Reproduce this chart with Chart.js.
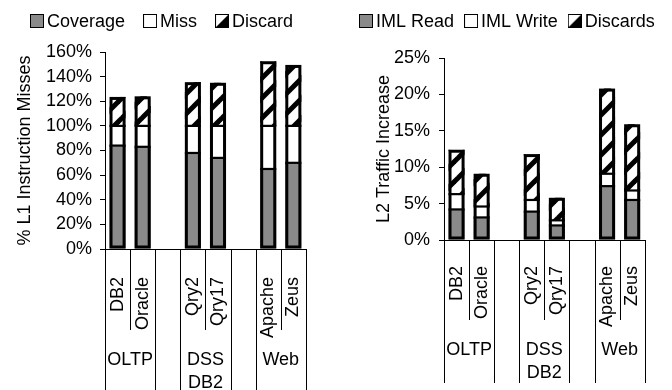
<!DOCTYPE html>
<html>
<head>
<meta charset="utf-8">
<script src="https://cdn.jsdelivr.net/npm/chart.js@4.4.1/dist/chart.umd.min.js"></script>
<style>
  body { margin: 0; background: #fff; }
  #wrap { position: relative; width: 672px; height: 390px; }
  .box { position: absolute; top: 0; }
</style>
</head>
<body>
<div id="wrap">
  <div class="box" style="left:0"><canvas id="l1Chart" width="336" height="390"></canvas></div>
  <div class="box" style="left:336px"><canvas id="l2Chart" width="336" height="390"></canvas></div>
</div>
<script>
// categories (blank slots separate the workload groups)
const workloads = ["DB2", "Oracle", "", "Qry2", "Qry17", "", "Apache", "Zeus"];
const groupOf = [0, 0, -1, 1, 1, -1, 2, 2];
const groupLabels = [["OLTP"], ["DSS", "DB2"], ["Web"]];

// left chart: % of L1 instruction misses
const coverage = [84, 83, null, 78, 74, null, 65, 70];
const miss = [16, 17, null, 22, 26, null, 35, 30];
const discard = [23.5, 24, null, 35.5, 35, null, 52.5, 49.5];

// right chart: L2 traffic increase
const imlRead = [4.2, 3.1, null, 3.9, 2.0, null, 7.4, 5.5];
const imlWrite = [2.1, 1.5, null, 1.6, 0.7, null, 1.7, 1.3];
const discards = [6.1, 4.5, null, 6.3, 3.1, null, 11.7, 9.1];

const GRAY = "#8a8a8a";

Chart.defaults.font.family = "'Liberation Sans', Arial, sans-serif";
Chart.defaults.font.size = 18;
Chart.defaults.color = "#000";

// diagonal hatch for the discard segments
function makeHatch() {
    const s = 20;
    const c = document.createElement("canvas");
    c.width = s; c.height = s;
    const g = c.getContext("2d");
    g.fillStyle = "#fff";
    g.fillRect(0, 0, s, s);
    g.strokeStyle = "#000";
    g.lineWidth = 5;
    [0, s, 2 * s].forEach(k => {
        g.beginPath();
        g.moveTo(k + 2, -2);
        g.lineTo(-2, k + 2);
        g.stroke();
    });
    return g.createPattern(c, "repeat");
}

// little legend boxes
function makeIcon(kind) {
    const n = 14;
    const c = document.createElement("canvas");
    c.width = n; c.height = n;
    const g = c.getContext("2d");
    g.fillStyle = kind === "fill" ? GRAY : "#fff";
    g.fillRect(0, 0, n, n);
    if (kind === "hatch") {
        g.fillStyle = "#000";
        g.beginPath();
        g.moveTo(n, 0); g.lineTo(n, n); g.lineTo(0, n);
        g.closePath(); g.fill();
    }
    g.strokeStyle = "#000";
    g.lineWidth = 1;
    g.strokeRect(0.5, 0.5, n - 1, n - 1);
    return c;
}

const hatch = makeHatch();

/* -------------------------------
   PLUGINS
---------------------------------*/

// hand-made legend so the spacing can follow the original
const boxLegend = {
    id: "boxLegend",
    afterDraw(chart, args, opts) {
        const ctx = chart.ctx;
        ctx.save();
        ctx.font = "18px 'Liberation Sans', Arial, sans-serif";
        ctx.fillStyle = "#000";
        ctx.textBaseline = "middle";
        let x = opts.x;
        chart.data.datasets.forEach(ds => {
            ctx.drawImage(ds.icon, x, opts.y - 7);
            x += 14 + 3;
            ctx.fillText(ds.label, x, opts.y + 1);
            x += ctx.measureText(ds.label).width + opts.gap;
        });
        ctx.restore();
    }
};

// black outline round each stack plus lines between its segments
const stackOutline = {
    id: "stackOutline",
    afterDatasetsDraw(chart, args, opts) {
        const ctx = chart.ctx;
        const sets = chart.data.datasets;
        const metas = sets.map((d, k) => chart.getDatasetMeta(k));
        const lw = opts.width;
        ctx.save();
        ctx.strokeStyle = "#000";
        workloads.forEach((w, i) => {
            const bars = metas.map(m => m.data[i]).filter((b, k) => b && sets[k].data[i] != null);
            if (!bars.length) return;
            const p = bars[0].getProps(["x", "base", "width"]);
            const left = p.x - p.width / 2;
            const top = Math.min(...bars.map(b => b.y));
            ctx.lineWidth = opts.split;
            bars.slice(0, -1).forEach(b => {
                ctx.beginPath();
                ctx.moveTo(left, b.y);
                ctx.lineTo(left + p.width, b.y);
                ctx.stroke();
            });
            ctx.lineWidth = lw;
            ctx.strokeRect(left + lw / 2, top + lw / 2, p.width - lw, p.base - top - lw);
        });
        ctx.restore();
    }
};

// separators below the category axis and the group names
const groupAxis = {
    id: "groupAxis",
    afterDraw(chart, args, opts) {
        const xs = chart.scales.x;
        const ctx = chart.ctx;
        const n = workloads.length;
        const half = (xs.getPixelForValue(1) - xs.getPixelForValue(0)) / 2;
        ctx.save();
        ctx.strokeStyle = "#000";
        ctx.lineWidth = 1;
        for (let i = 0; i <= n; i++) {
            const px = Math.round(i < n ? xs.getPixelForValue(i) - half : xs.getPixelForValue(n - 1) + half) + 0.5;
            const inner = i > 0 && i < n && groupOf[i] !== -1 && groupOf[i] === groupOf[i - 1];
            ctx.beginPath();
            ctx.moveTo(px, xs.top);
            ctx.lineTo(px, inner ? opts.shortEnd : opts.longEnd);
            ctx.stroke();
        }
        ctx.font = "18px 'Liberation Sans', Arial, sans-serif";
        ctx.fillStyle = "#000";
        ctx.textAlign = "center";
        ctx.textBaseline = "middle";
        groupLabels.forEach((lines, gi) => {
            const idx = groupOf.map((g, i) => g === gi ? i : -1).filter(i => i >= 0);
            const cx = (xs.getPixelForValue(idx[0]) + xs.getPixelForValue(idx[idx.length - 1])) / 2;
            lines.forEach((t, k) => ctx.fillText(t, cx, opts.labelY + k * 22.7));
        });
        ctx.restore();
    }
};

/* -------------------------------
   CHART BUILDER
---------------------------------*/

function barSet(label, data, fill, icon) {
    return {
        label: label,
        data: data,
        icon: icon,
        backgroundColor: fill,
        borderWidth: 0,
        barPercentage: 0.64,
        categoryPercentage: 1
    };
}

function buildChart(id, sets, c) {
    return new Chart(document.getElementById(id), {
        type: "bar",
        data: { labels: workloads, datasets: sets },
        plugins: [boxLegend, stackOutline, groupAxis],
        options: {
            responsive: false,
            animation: false,
            layout: { padding: { top: c.top, right: c.right, left: 0, bottom: 0 } },
            plugins: {
                legend: { display: false },
                tooltip: { enabled: false },
                boxLegend: { x: c.legendX, y: 21, gap: c.legendGap },
                stackOutline: { width: 3, split: 2.2 },
                groupAxis: { shortEnd: c.shortEnd, longEnd: c.longEnd, labelY: c.groupY }
            },
            scales: {
                x: {
                    stacked: true,
                    grid: { display: false },
                    border: { color: "#000", width: 1 },
                    ticks: { autoSkip: false, minRotation: 90, maxRotation: 90, padding: c.xPad },
                    afterFit: s => { s.height = c.xHeight; }
                },
                y: {
                    stacked: true,
                    min: 0,
                    max: c.max,
                    border: { color: "#000", width: 1 },
                    grid: { drawOnChartArea: false, tickLength: 5, color: "#000" },
                    ticks: { stepSize: c.step, padding: c.yPad, callback: v => v + "%" },
                    title: { display: true, text: c.title, padding: { top: c.titlePad, bottom: 0 } },
                    afterFit: s => { s.width = c.yWidth; }
                }
            }
        }
    });
}

buildChart("l1Chart", [
    barSet("Coverage", coverage, GRAY, makeIcon("fill")),
    barSet("Miss", miss, "#fff", makeIcon("empty")),
    barSet("Discard", discard, hatch, makeIcon("hatch"))
], {
    top: 52, right: 17, max: 160, step: 20, title: "% L1 Instruction Misses",
    titlePad: 14, yWidth: 105, yPad: 8, xHeight: 141, xPad: 20,
    legendX: 30, legendGap: 18, shortEnd: 330, longEnd: 390, groupY: 360
});

buildChart("l2Chart", [
    barSet("IML Read", imlRead, GRAY, makeIcon("fill")),
    barSet("IML Write", imlWrite, "#fff", makeIcon("empty")),
    barSet("Discards", discards, hatch, makeIcon("hatch"))
], {
    top: 58, right: 4, max: 25, step: 5, title: "L2 Traffic Increase",
    titlePad: 37, yWidth: 108, yPad: 9, xHeight: 150, xPad: 18,
    legendX: 23, legendGap: 10, shortEnd: 320, longEnd: 383, groupY: 350
});
</script>
</body>
</html>
